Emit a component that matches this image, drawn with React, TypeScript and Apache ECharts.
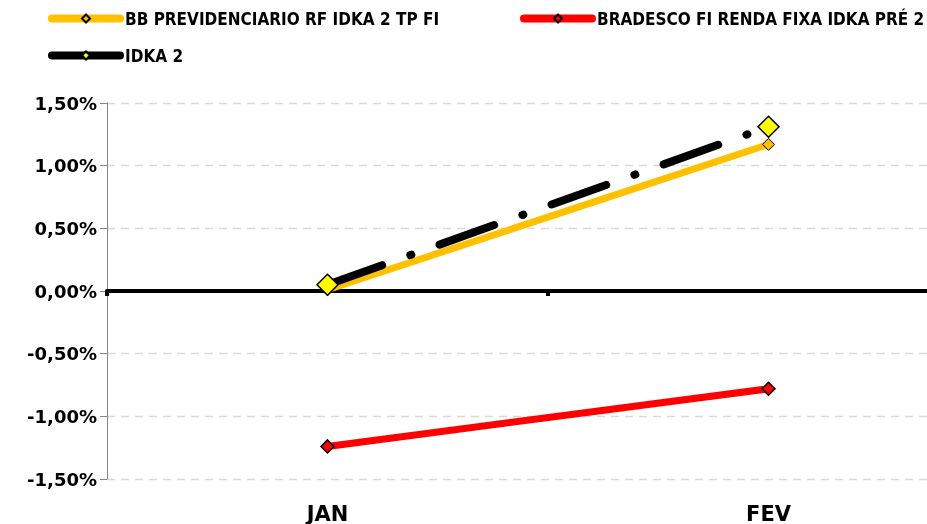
import React, { useEffect, useRef } from "react";
import * as echarts from "echarts";

const categories = ["JAN", "FEV"];
const bbPrev = [0.01, 1.17];
const bradesco = [-1.24, -0.78];
const idka2 = [0.05, 1.31];
const seriesNames = ["BB PREVIDENCIARIO RF IDKA 2 TP FI", "BRADESCO FI RENDA FIXA IDKA PRÉ 2", "IDKA 2"];

const FONT = "'DejaVu Sans Condensed', 'DejaVu Sans', sans-serif";
const FONT_AX = "'DejaVu Sans', sans-serif";

export default function App() {
  const ref = useRef<HTMLDivElement>(null);
  useEffect(() => {
    const chart = echarts.init(ref.current!, null, { renderer: "svg" });
    const legendText = { fontFamily: FONT, fontWeight: "bold", fontSize: 17, color: "#000" };
    const legendBase = {
      itemWidth: 68,
      itemHeight: 10,
      padding: 0,
      textStyle: legendText,
      itemGap: 4,
      lineStyle: { type: "solid", width: 8, cap: "round" },
    };
    chart.setOption({
      animation: false,
      legend: [
        { ...legendBase, left: 48, top: 10, data: [seriesNames[0]] },
        { ...legendBase, left: 520, top: 10, data: [seriesNames[1]] },
        { ...legendBase, left: 48, top: 47, data: [seriesNames[2]] },
      ],
      grid: { left: 107, right: 0, top: 103, bottom: 45, containLabel: false },
      xAxis: [
        {
          type: "category",
          data: categories,
          position: "bottom",
          axisLine: { show: false, onZero: false },
          axisTick: { show: false },
          axisLabel: { fontFamily: FONT_AX, fontWeight: "bold", fontSize: 21, color: "#000", margin: 24 },
        },
        {
          type: "category",
          data: categories,
          position: "bottom",
          axisLine: { show: true, onZero: true, lineStyle: { color: "#000", width: 4 } },
          axisTick: { show: true, length: 5, lineStyle: { color: "#000", width: 4 } },
          axisLabel: { show: false },
        },
      ],
      yAxis: {
        type: "value",
        min: -1.5,
        max: 1.5,
        interval: 0.5,
        axisLine: { show: true, lineStyle: { color: "#868686", width: 1 } },
        axisTick: { show: true, length: 7, lineStyle: { color: "#868686" } },
        splitLine: { show: true, lineStyle: { color: "#d9d9d9", type: [8, 6], width: 1.3 } },
        axisLabel: {
          fontFamily: FONT_AX,
          fontWeight: "bold",
          fontSize: 18,
          color: "#000",
          margin: 10,
          formatter: (v: number) => v.toFixed(2).replace(".", ",") + "%",
        },
      },
      series: [
        {
          name: seriesNames[0],
          type: "line",
          data: bbPrev,
          symbol: "diamond",
          symbolSize: 12,
          lineStyle: { color: "#FFC000", width: 7 },
          itemStyle: { color: "#FFC000", borderColor: "#000", borderWidth: 1 },
          z: 3,
        },
        {
          name: seriesNames[1],
          type: "line",
          data: bradesco,
          symbol: "diamond",
          symbolSize: 13,
          lineStyle: { color: "#FF0000", width: 7 },
          itemStyle: { color: "#FF0000", borderColor: "#000", borderWidth: 1.5 },
          z: 3,
        },
        {
          name: seriesNames[2],
          type: "line",
          data: idka2,
          symbol: "diamond",
          symbolSize: 21,
          lineStyle: { color: "#000", width: 8, type: [58, 30, 1, 30], cap: "round" },
          itemStyle: { color: "#FFFF00", borderColor: "#000", borderWidth: 1.5 },
          z: 4,
        },
      ],
    });
    return () => chart.dispose();
  }, []);
  return <div ref={ref} style={{ position: "fixed", left: 0, top: 0, width: 989, height: 524 }} />;
}
